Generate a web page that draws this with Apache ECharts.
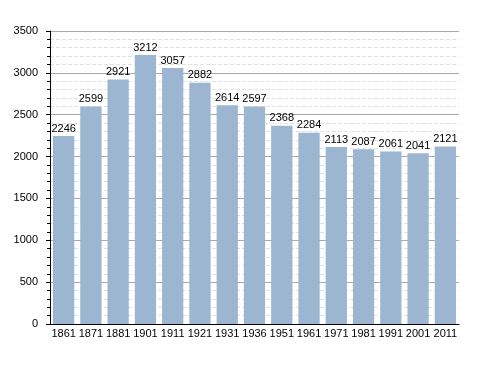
<!DOCTYPE html>
<html><head><meta charset="utf-8">
<script src="https://cdn.jsdelivr.net/npm/echarts@6/dist/echarts.min.js"></script>
<style>html,body{margin:0;padding:0;background:#fff}#c{width:488px;height:373px}</style>
</head><body><div id="c"></div>
<script>
var years = ['1861','1871','1881','1901','1911','1921','1931','1936','1951','1961','1971','1981','1991','2001','2011'];
var population = [2246,2599,2921,3212,3057,2882,2614,2597,2368,2284,2113,2087,2061,2041,2121];
var chart = echarts.init(document.getElementById('c'));
chart.setOption({
  animation: false,
  grid: {left: 50, right: 29, top: 31, bottom: 49},
  xAxis: {
    type: 'category', data: years,
    axisLine: {lineStyle: {color: '#000', width: 1}},
    axisTick: {show: false},
    axisLabel: {color: '#000', fontFamily: 'Liberation Sans, Arial', fontSize: 11, margin: 4, interval: 0}
  },
  yAxis: {
    type: 'value', min: 0, max: 3500, interval: 500,
    axisLine: {show: true, lineStyle: {color: '#000'}},
    axisTick: {show: true, inside: false, length: 4, lineStyle: {color: '#000'}},
    minorTick: {show: true, splitNumber: 5, length: 3, lineStyle: {color: '#000'}},
    axisLabel: {color: '#000', fontFamily: 'Liberation Sans, Arial', fontSize: 11, margin: 12,
      formatter: function (v) { return String(v); }},
    splitLine: {show: true, lineStyle: {color: '#aaaaaa', width: 1}},
    minorSplitLine: {show: true, lineStyle: {color: '#e2e2e2', width: 1, type: [4, 2]}}
  },
  series: [{
    type: 'bar', data: population,
    barCategoryGap: '22%',
    itemStyle: {color: '#9cb5d0'},
    label: {show: true, position: 'top', distance: 2, color: '#000', fontFamily: 'Liberation Sans, Arial', fontSize: 11}
  }]
});
</script></body></html>
